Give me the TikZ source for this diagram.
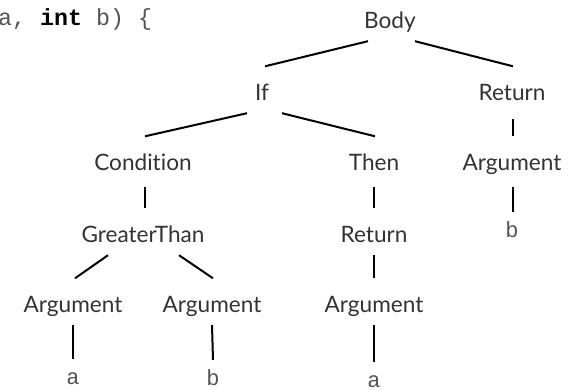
\documentclass[tikz,border=0pt]{standalone}
\usepackage{fontspec}
\setmainfont{Lato}[Ligatures=NoCommon]
\setmonofont{Liberation Mono}
\usepackage{tikz}
\usetikzlibrary{positioning}
\definecolor{labelgray}{HTML}{333333}
\definecolor{codegray}{HTML}{555555}

\begin{document}
\begin{tikzpicture}[x=1pt,y=-1pt,
  lbl/.style={anchor=base,inner xsep=0pt,inner ysep=13pt,text height=20.5pt,text depth=0pt,
    font=\fontsize{22.6}{26}\selectfont,text=labelgray},
  leaf/.style={anchor=base,inner xsep=0pt,inner ysep=13pt,text height=12pt,text depth=0pt,
    font=\ttfamily\fontsize{22}{26}\selectfont,text=codegray},
  edge/.style={line width=2pt}]
\useasboundingbox (0,0) rectangle (574,389);
\node[anchor=base west,inner sep=0pt,font=\ttfamily\fontsize{23.3}{26}\selectfont,text=codegray] (sig) at (-2,25) {a, \textbf{\color{black}int} b) \{};
\node[lbl] (body) at (390,28) {Body};
\node[lbl] (if) at (262,100) {If};
\node[lbl] (ret) at (512,100) {Return};
\node[lbl] (cond) at (143,170) {Condition};
\node[lbl] (then) at (374,170) {Then};
\node[lbl] (retarg) at (512,170) {Argument};
\node[lbl] (gt) at (143,242) {GreaterThan};
\node[lbl] (thenret) at (374,242) {Return};
\node[leaf] (retb) at (512,237) {b};
\node[lbl] (gtleft) at (73,312) {Argument};
\node[lbl] (gtright) at (212,312) {Argument};
\node[lbl] (thenarg) at (374,312) {Argument};
\node[leaf] (lefta) at (73,384) {a};
\node[leaf] (rightb) at (213,385) {b};
\node[leaf] (thena) at (374,387) {a};
\draw[edge] ([xshift=-22pt]body.south) -- ([xshift=3pt]if.north);
\draw[edge] ([xshift=25pt]body.south) -- ([xshift=1pt]ret.north);
\draw[edge] ([xshift=-15pt]if.south) -- ([xshift=2pt]cond.north);
\draw[edge] ([xshift=20pt]if.south) -- ([xshift=1pt]then.north);
\draw[edge,shorten <=6pt] ([xshift=1pt]ret.south) -- ([xshift=1pt]retarg.north);
\draw[edge,shorten <=4pt] ([xshift=2pt]cond.south) -- ([xshift=2pt]gt.north);
\draw[edge,shorten <=4pt] (then.south) -- (thenret.north);
\draw[edge,shorten <=4pt] ([xshift=1pt]retarg.south) -- ([xshift=1pt]retb.north);
\draw[edge] ([xshift=-35pt]gt.south) -- ([xshift=2pt]gtleft.north);
\draw[edge] ([xshift=36pt]gt.south) -- ([xshift=1pt]gtright.north);
\draw[edge] (thenret.south) -- (thenarg.north);
\draw[edge] (gtleft.south) -- (lefta.north);
\draw[edge] (gtright.south) -- (rightb.north);
\draw[edge] (thenarg.south) -- (thena.north);
\end{tikzpicture}
\end{document}
